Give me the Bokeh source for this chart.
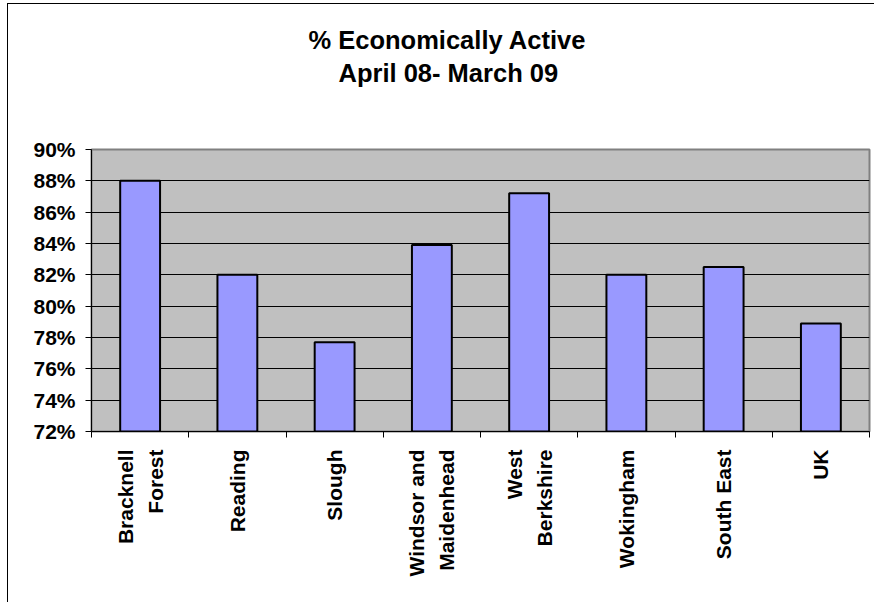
import math
from bokeh.plotting import figure
from bokeh.models import Range1d, FixedTicker, PrintfTickFormatter, Title
from bokeh.embed import file_html
from bokeh.resources import INLINE

categories = ["Bracknell Forest", "Reading", "Slough", "Windsor and Maidenhead",
              "West Berkshire", "Wokingham", "South East", "UK"]
tick_labels = ["Bracknell\nForest", "Reading", "Slough", "Windsor and\nMaidenhead",
               "West\nBerkshire", "Wokingham", "South East", "UK"]
values = [88.0, 82.0, 77.7, 83.9, 87.2, 82.0, 82.5, 78.9]
y_ticks = [72, 74, 76, 78, 80, 82, 84, 86, 88, 90]
title_lines = ["% Economically Active", "April 08- March 09"]

n = len(categories)
xs = list(range(1, n + 1))

FONT = "Liberation Sans"

p = figure(width=867, height=599, output_backend="svg", toolbar_location=None,
           x_range=Range1d(0.5, n + 0.5), y_range=Range1d(y_ticks[0], y_ticks[-1]),
           min_border_left=83, min_border_right=6, min_border_top=145, min_border_bottom=172)
p.styles = {"border-left": "1px solid black", "border-top": "1px solid black",
            "margin-left": "7px", "margin-top": "3px"}
p.background_fill_color = "#C0C0C0"
p.border_fill_color = "white"
p.outline_line_color = "#808080"
p.outline_line_width = 2
p.title.visible = False

spacer = Title(text=" ", text_font=FONT, text_font_size="24px", standoff=32)
t2 = Title(text=title_lines[1], align="left", offset=247, text_font=FONT,
           text_font_size="25.5px", text_font_style="bold", text_color="black",
           standoff=3)
t1 = Title(text=title_lines[0], align="left", offset=217, text_font=FONT,
           text_font_size="25.5px", text_font_style="bold", text_color="black",
           standoff=3)
p.add_layout(spacer, "above")
p.add_layout(t2, "above")
p.add_layout(t1, "above")

p.vbar(x=xs, top=values, bottom=y_ticks[0], width=0.41,
       fill_color="#9999FF", line_color="black", line_width=2)

# x axis
p.xaxis.ticker = FixedTicker(ticks=xs, minor_ticks=[i + 0.5 for i in range(n + 1)])
p.xaxis.major_label_overrides = {x: lab for x, lab in zip(xs, tick_labels)}
p.xaxis.major_label_orientation = math.pi / 2
p.xaxis.major_tick_line_color = None
p.xaxis.major_tick_out = 0
p.xaxis.major_tick_in = 0
p.xaxis.minor_tick_line_color = "black"
p.xaxis.minor_tick_out = 6
p.xaxis.minor_tick_in = 0
p.xaxis.axis_line_color = "black"
p.xaxis.major_label_standoff = 12
p.xaxis.major_label_text_font = FONT
p.xaxis.major_label_text_font_size = "21px"
p.xaxis.major_label_text_font_style = "bold"
p.xaxis.major_label_text_color = "black"
p.xaxis.major_label_text_line_height = 1.3
p.xaxis.major_label_text_align = "center"

# y axis
p.yaxis.ticker = FixedTicker(ticks=y_ticks)
p.yaxis.formatter = PrintfTickFormatter(format="%d%%")
p.yaxis.minor_tick_line_color = None
p.yaxis.major_tick_out = 6
p.yaxis.major_tick_in = 0
p.yaxis.major_tick_line_color = "black"
p.yaxis.axis_line_color = "black"
p.yaxis.major_label_standoff = 10
p.yaxis.major_label_text_font = FONT
p.yaxis.major_label_text_font_size = "21px"
p.yaxis.major_label_text_font_style = "bold"
p.yaxis.major_label_text_color = "black"

p.xgrid.grid_line_color = None
p.ygrid.grid_line_color = "black"
p.ygrid.grid_line_width = 1
p.ygrid.ticker = FixedTicker(ticks=y_ticks)

open("out.html", "w").write(file_html(p, INLINE))
